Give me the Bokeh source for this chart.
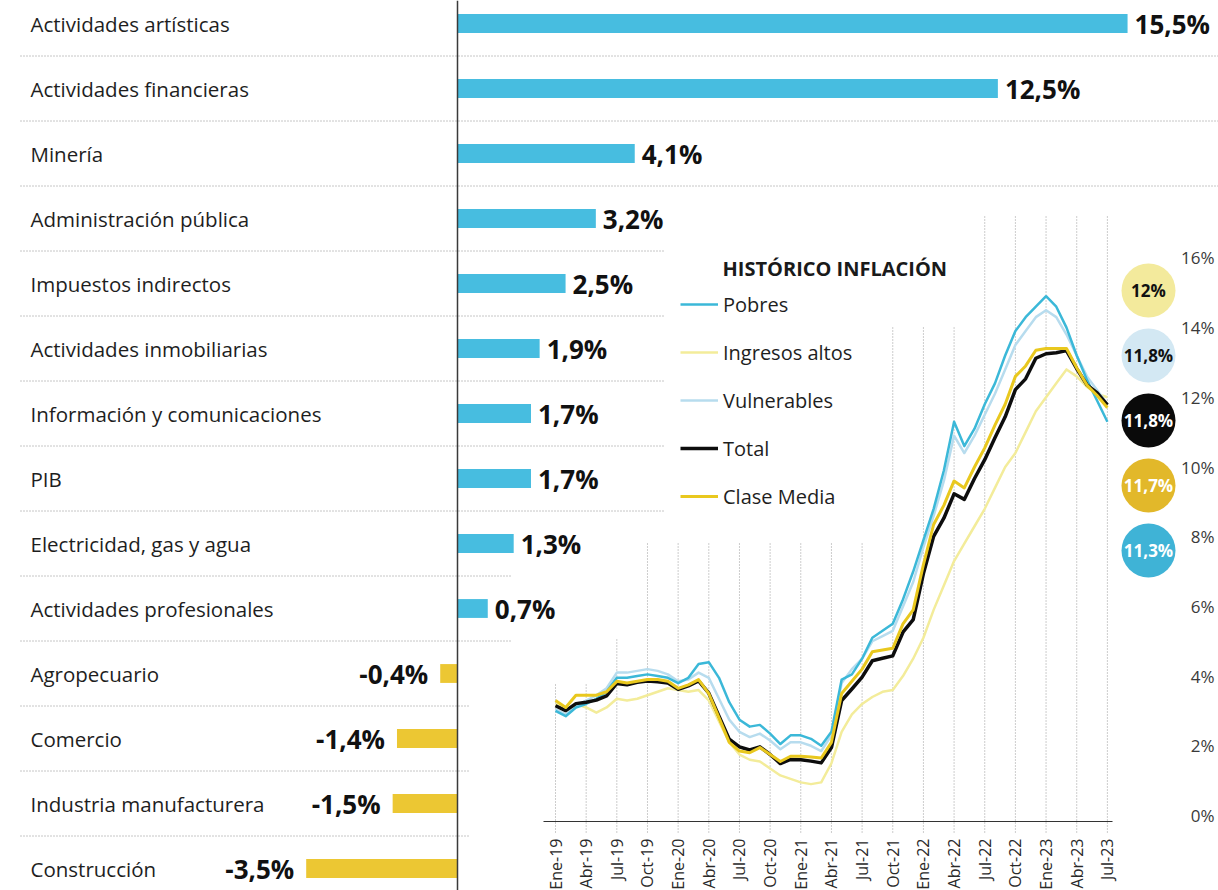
import math
from bokeh.plotting import figure
from bokeh.models import Range1d, Legend, LegendItem, Span
from bokeh.core.properties import value
from bokeh.embed import file_html
from bokeh.resources import INLINE

# ---------------- data ----------------
categories = ["Actividades artísticas", "Actividades financieras", "Minería",
              "Administración pública", "Impuestos indirectos", "Actividades inmobiliarias",
              "Información y comunicaciones", "PIB", "Electricidad, gas y agua",
              "Actividades profesionales", "Agropecuario", "Comercio",
              "Industria manufacturera", "Construcción"]
growth = [15.5, 12.5, 4.1, 3.2, 2.5, 1.9, 1.7, 1.7, 1.3, 0.7, -0.4, -1.4, -1.5, -3.5]

tick_labels = ["Ene-19", "Abr-19", "Jul-19", "Oct-19", "Ene-20", "Abr-20", "Jul-20",
               "Oct-20", "Ene-21", "Abr-21", "Jul-21", "Oct-21", "Ene-22", "Abr-22",
               "Jul-22", "Oct-22", "Ene-23", "Abr-23", "Jul-23"]

# monthly annual inflation, Jan-2019 .. Jul-2023
pobres = [3.00, 2.85, 3.10, 3.20, 3.35, 3.55, 3.95, 3.95, 4.00, 4.05, 4.00, 3.95,
          3.80, 3.95, 4.35, 4.40, 3.95, 3.25, 2.75, 2.55, 2.60, 2.35, 2.05, 2.30,
          2.30, 2.20, 2.00, 2.40, 3.90, 4.05, 4.50, 5.10, 5.30, 5.50, 6.20, 7.00,
          7.90, 8.80, 9.90, 11.30, 10.60, 11.10, 11.80, 12.40, 13.20, 13.90, 14.30, 14.60,
          14.90, 14.60, 14.00, 13.20, 12.50, 11.90, 11.30]
ingresos_altos = [3.20, 3.00, 3.20, 3.10, 2.95, 3.10, 3.35, 3.30, 3.35, 3.45, 3.55, 3.65,
                  3.60, 3.55, 3.60, 3.30, 2.70, 2.10, 1.75, 1.60, 1.55, 1.35, 1.15, 1.05,
                  0.95, 0.90, 0.95, 1.50, 2.40, 2.90, 3.20, 3.40, 3.55, 3.60, 4.00, 4.50,
                  5.10, 5.90, 6.60, 7.30, 7.80, 8.30, 8.80, 9.40, 10.00, 10.40, 11.00, 11.60,
                  12.00, 12.40, 12.80, 12.60, 12.30, 12.10, 12.00]
vulnerables = [3.05, 2.90, 3.15, 3.30, 3.45, 3.65, 4.10, 4.10, 4.15, 4.20, 4.15, 4.05,
               3.85, 3.90, 4.10, 3.95, 3.35, 2.75, 2.40, 2.25, 2.35, 2.15, 1.90, 2.10,
               2.10, 2.00, 1.85, 2.30, 3.80, 4.20, 4.50, 5.00, 5.15, 5.30, 6.00, 6.70,
               7.70, 8.60, 9.60, 10.90, 10.40, 10.90, 11.50, 12.10, 12.80, 13.50, 13.90, 14.30,
               14.50, 14.30, 13.80, 13.20, 12.60, 12.20, 11.80]
total = [3.15, 3.01, 3.21, 3.25, 3.31, 3.43, 3.79, 3.75, 3.82, 3.86, 3.84, 3.80,
         3.62, 3.72, 3.86, 3.51, 2.85, 2.19, 1.97, 1.88, 1.97, 1.75, 1.49, 1.61,
         1.60, 1.56, 1.51, 1.95, 3.30, 3.63, 3.97, 4.44, 4.51, 4.58, 5.26, 5.62,
         6.94, 8.01, 8.53, 9.23, 9.07, 9.67, 10.21, 10.84, 11.44, 12.22, 12.53, 13.12,
         13.25, 13.28, 13.34, 12.82, 12.36, 12.13, 11.78]
clase_media = [3.30, 3.10, 3.45, 3.45, 3.45, 3.55, 3.85, 3.80, 3.85, 3.90, 3.90, 3.85,
               3.65, 3.75, 3.90, 3.50, 2.80, 2.10, 1.85, 1.80, 1.95, 1.75, 1.55, 1.70,
               1.70, 1.68, 1.65, 2.10, 3.50, 3.85, 4.20, 4.70, 4.75, 4.80, 5.50, 5.90,
               7.20, 8.35, 8.90, 9.60, 9.40, 10.00, 10.55, 11.20, 11.80, 12.60, 12.90, 13.35,
               13.40, 13.40, 13.40, 12.85, 12.35, 12.05, 11.70]

y_ticks = [0, 2, 4, 6, 8, 10, 12, 14, 16]
badge_labels = ["12%", "11,8%", "11,8%", "11,7%", "11,3%"]

# ---------------- layout (pixels) ----------------
W, H = 1218, 890
ZERO_PX, PX_PER_PCT = 457.0, 43.23          # bar chart horizontal scale
ROW0_PX, ROW_PITCH = 23.0, 65.0             # bar rows
TS_X0, PX_PER_MONTH = 555.0, 10.22          # inset horizontal scale
TS_Y0, PX_PER_PT = 815.0, 34.85             # inset vertical scale

def bx(px):
    return (px - ZERO_PX) / PX_PER_PCT

def tx(px):
    return (px - TS_X0) / PX_PER_MONTH

def ty(py):
    return (TS_Y0 - py) / PX_PER_PT

FONT = value("Open Sans")

p = figure(width=W, height=H,
           x_range=Range1d(bx(0), bx(W)),
           y_range=Range1d((H - ROW0_PX) / ROW_PITCH, -ROW0_PX / ROW_PITCH),
           output_backend="svg", toolbar_location=None,
           x_axis_type=None, y_axis_type=None, min_border=0,
           outline_line_color=None, background_fill_color="white",
           border_fill_color="white")
p.extra_x_ranges["ts"] = Range1d(tx(0), tx(W))
p.extra_y_ranges["pct"] = Range1d(ty(H), ty(0))

rows = list(range(len(categories)))

# dotted separators between rows
sep_end_px = [W, W, W, 665, 665, 665, 665, 665, 510, 510, 470, 470, 470]
sep_y = [r + 0.5 for r in rows[:-1]]
p.segment(x0=[bx(20)] * len(sep_y), y0=sep_y, x1=[bx(e) for e in sep_end_px], y1=sep_y,
          line_color="#8c8c8c", line_width=1, line_dash="1 2")

# bars
bar_colors = ["#47bde0" if v >= 0 else "#ecc733" for v in growth]
p.hbar(y=rows, left=0, right=growth, height=0.29, fill_color=bar_colors, line_color=None)
p.add_layout(Span(location=0, dimension="height", line_color="#3a3a3a", line_width=1.5))

# category labels
p.text(x=[bx(30)] * len(rows), y=rows, text=categories, text_font=FONT,
       text_font_size="20.5px", text_baseline="middle", text_color="#1e1e1e")

# value labels
def fmt(v):
    return ("%.1f" % v).replace(".", ",") + "%"

pos = [i for i, v in enumerate(growth) if v >= 0]
neg = [i for i, v in enumerate(growth) if v < 0]
p.text(x=[growth[i] + 7 / PX_PER_PCT for i in pos], y=[rows[i] for i in pos],
       text=[fmt(growth[i]) for i in pos], text_font=FONT, text_font_style="bold",
       text_font_size="26px", text_baseline="middle", text_align="left", text_color="#111111")
p.text(x=[growth[i] - 12 / PX_PER_PCT for i in neg], y=[rows[i] for i in neg],
       text=[fmt(growth[i]) for i in neg], text_font=FONT, text_font_style="bold",
       text_font_size="26px", text_baseline="middle", text_align="right", text_color="#111111")

# ---------------- inset line chart ----------------
months_idx = list(range(len(total)))
tick_idx = [3 * k for k in range(len(tick_labels))]
grid_top_px = [682, 682, 637] + [543] * 8 + [327, 327, 327] + [215] * 5
p.segment(x0=tick_idx, y0=[ty(832)] * len(tick_idx), x1=tick_idx,
          y1=[ty(t) for t in grid_top_px], x_range_name="ts", y_range_name="pct",
          line_color="#9a9a9a", line_width=1, line_dash="1 2")
p.segment(x0=[tx(543)], y0=[ty(821)], x1=[tx(1112)], y1=[ty(821)],
          x_range_name="ts", y_range_name="pct", line_color="#333333", line_width=1.2)

series = [
    ("Ingresos altos", ingresos_altos, "#f3ec9a", 2.5),
    ("Vulnerables", vulnerables, "#b7dcee", 2.5),
    ("Pobres", pobres, "#3bb8d8", 2.5),
    ("Total", total, "#0d0d0d", 3.5),
    ("Clase Media", clase_media, "#e9c81e", 3.0),
]
renderers = {}
for name, vals, col, lw in series:
    renderers[name] = p.line(x=months_idx, y=vals, x_range_name="ts", y_range_name="pct",
                             line_color=col, line_width=lw, line_join="round")

legend_order = ["Pobres", "Ingresos altos", "Vulnerables", "Total", "Clase Media"]
legend = Legend(items=[LegendItem(label=n, renderers=[renderers[n]]) for n in legend_order],
                location=(680, H - 510), orientation="vertical",
                glyph_width=38, glyph_height=28, label_height=28, spacing=20,
                padding=0, margin=0, border_line_color=None, background_fill_alpha=0,
                label_text_font="Open Sans", label_text_font_size="20px",
                label_text_color="#1e1e1e", label_standoff=5)
p.add_layout(legend)

p.text(x=[tx(722)], y=[ty(268)], text=["HISTÓRICO INFLACIÓN"], x_range_name="ts",
       y_range_name="pct", text_font=FONT, text_font_style="bold", text_font_size="20px",
       text_baseline="middle", text_color="#1a1a1a")

# right axis labels
p.text(x=[tx(1214)] * len(y_ticks), y=y_ticks, text=["%d%%" % t for t in y_ticks],
       x_range_name="ts", y_range_name="pct", text_font=FONT, text_font_size="17px",
       text_align="right", text_baseline="middle", text_color="#3a3a3a")

# month tick labels (vertical)
p.text(x=tick_idx, y=[ty(838)] * len(tick_idx), text=tick_labels, angle=math.pi / 2,
       x_range_name="ts", y_range_name="pct", text_font=FONT, text_font_size="16px",
       text_align="right", text_baseline="middle", text_color="#2a2a2a")

# final-value badges
badge_fill = ["#f3ea9c", "#d3e8f3", "#0a0a0a", "#e2b82a", "#3fb3d6"]
badge_text = ["#111111", "#111111", "#ffffff", "#ffffff", "#ffffff"]
badge_y = [ty(290 + 65 * k) for k in range(len(badge_labels))]
p.scatter(x=[tx(1148)] * len(badge_labels), y=badge_y, size=54, fill_color=badge_fill,
          line_color=None, x_range_name="ts", y_range_name="pct")
p.text(x=[tx(1148)] * len(badge_labels), y=badge_y, text=badge_labels, text_color=badge_text,
       x_range_name="ts", y_range_name="pct", text_font=FONT, text_font_style="bold",
       text_font_size="17px", text_align="center", text_baseline="middle")

open("out.html", "w").write(file_html(p, INLINE))
